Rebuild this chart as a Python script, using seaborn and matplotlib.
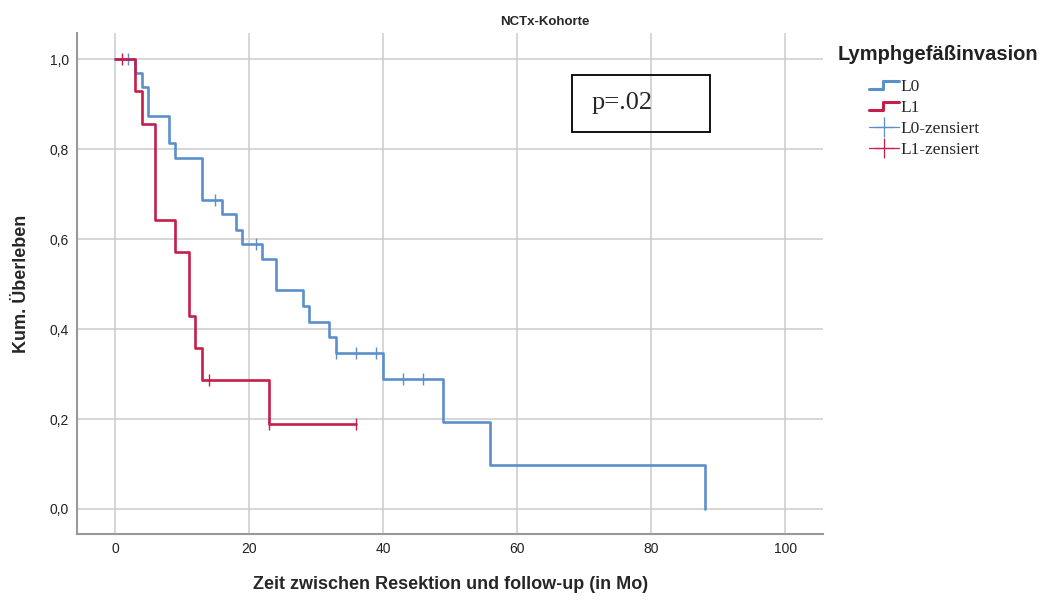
import numpy as np
import pandas as pd
import seaborn as sns
import matplotlib.pyplot as plt
from matplotlib.lines import Line2D
from matplotlib.patches import Rectangle
from matplotlib.legend_handler import HandlerBase

# Kaplan-Meier steps
l0_time = [0, 3, 4, 5, 8, 9, 13, 16, 18, 19, 22, 24, 28, 29, 32, 33, 40, 49, 56, 88]
l0_surv = [1.0, 0.969, 0.938, 0.875, 0.813, 0.781, 0.688, 0.656, 0.621, 0.590,
           0.555, 0.486, 0.451, 0.416, 0.382, 0.347, 0.289, 0.193, 0.097, 0.0]
l0_cens_time = [2, 15, 21, 33, 36, 39, 43, 46]
l0_cens_surv = [1.0, 0.688, 0.590, 0.347, 0.347, 0.347, 0.289, 0.289]

l1_time = [0, 3, 4, 6, 9, 11, 12, 13, 23, 36]
l1_surv = [1.0, 0.929, 0.857, 0.643, 0.571, 0.429, 0.357, 0.286, 0.190, 0.190]
l1_cens_time = [1, 14, 23, 36]
l1_cens_surv = [1.0, 0.286, 0.190, 0.190]

x_ticks = [0, 20, 40, 60, 80, 100]
y_ticks = [0.0, 0.2, 0.4, 0.6, 0.8, 1.0]

BLUE = "#5b8fcb"
RED = "#c41e4a"
SANS = ["Liberation Sans", "DejaVu Sans"]
SERIF = ["Liberation Serif", "DejaVu Serif"]

steps = pd.concat([
    pd.DataFrame({"t": l0_time, "s": l0_surv, "grp": "L0"}),
    pd.DataFrame({"t": l1_time, "s": l1_surv, "grp": "L1"}),
])
cens = pd.concat([
    pd.DataFrame({"t": l0_cens_time, "s": l0_cens_surv, "grp": "L0"}),
    pd.DataFrame({"t": l1_cens_time, "s": l1_cens_surv, "grp": "L1"}),
])

sns.set_style("whitegrid")
plt.rcParams["font.family"] = SANS

fig = plt.figure(figsize=(10.48, 6), dpi=100)
ax = fig.add_axes([0.0738, 0.11, 0.7115, 0.835])

pal = {"L0": BLUE, "L1": RED}
for g in ["L0", "L1"]:
    d = steps[steps.grp == g]
    sns.lineplot(data=d, x="t", y="s", color=pal[g], drawstyle="steps-post",
                 linewidth=1.9, ax=ax, legend=False, estimator=None, sort=False)
    c = cens[cens.grp == g]
    ax.plot(c.t, c.s, linestyle="none", marker="|", markersize=9,
            markeredgewidth=1.0, color=pal[g])

ax.set_xlim(-5.6, 105.6)
ax.set_ylim(-0.0556, 1.0585)
ax.set_xticks(x_ticks)
ax.set_yticks(y_ticks)
ax.set_yticklabels([f"{v:.1f}".replace(".", ",") for v in y_ticks])
ax.tick_params(axis="both", length=0, labelsize=10, colors="#222222", pad=6)
ax.grid(True, color="#cccccc", linewidth=1.1)
for side in ["top", "right"]:
    ax.spines[side].set_visible(False)
for side in ["left", "bottom"]:
    ax.spines[side].set_color("#999999")
    ax.spines[side].set_linewidth(1.5)

ax.set_xlabel("Zeit zwischen Resektion und follow-up (in Mo)", fontsize=13,
              fontweight="bold", labelpad=14)
ax.set_ylabel("Kum. Überleben", fontsize=13, fontweight="bold", labelpad=14)

fig.text(545 / 1048, 1 - 22 / 600, "NCTx-Kohorte", fontsize=9.5,
         fontweight="bold", ha="center", va="center")

# p-value box
fig.patches.append(Rectangle((572 / 1048, 1 - 132 / 600), 138 / 1048, 57 / 600,
                             transform=fig.transFigure, fill=False,
                             edgecolor="black", linewidth=1.3))
fig.text(592 / 1048, 1 - 103 / 600, "p=.02", fontsize=19, family=SERIF,
         ha="left", va="center")


class StepHandler(HandlerBase):
    def create_artists(self, legend, orig_handle, xdescent, ydescent,
                       width, height, fontsize, trans):
        xs = np.array([0, 0.45, 0.45, 1.0]) * width - xdescent
        ys = np.array([0.15, 0.15, 0.85, 0.85]) * height - ydescent
        ln = Line2D(xs, ys, color=orig_handle.get_color(), linewidth=2.2)
        ln.set_transform(trans)
        return [ln]


class StepKey(Line2D):
    pass


h_l0 = StepKey([], [], color=BLUE)
h_l1 = StepKey([], [], color=RED)
h_c0 = Line2D([], [], color=BLUE, linewidth=0.9, marker="+", markersize=14,
              markeredgewidth=0.9)
h_c1 = Line2D([], [], color=RED, linewidth=0.9, marker="+", markersize=14,
              markeredgewidth=0.9)

fig.text(838 / 1048, 1 - 55 / 600, "Lymphgefäßinvasion", fontsize=14.5,
         fontweight="bold", ha="left", va="center", color="#222222")
leg = fig.legend([h_l0, h_l1, h_c0, h_c1],
                 ["L0", "L1", "L0-zensiert", "L1-zensiert"],
                 loc="upper left", bbox_to_anchor=(869 / 1048, 1 - 79 / 600),
                 frameon=False, borderpad=0, borderaxespad=0,
                 handlelength=1.75, handletextpad=0.05, labelspacing=0.28,
                 prop={"family": SERIF, "size": 12.5},
                 handler_map={StepKey: StepHandler()})

fig.savefig("out.png", dpi=100)
